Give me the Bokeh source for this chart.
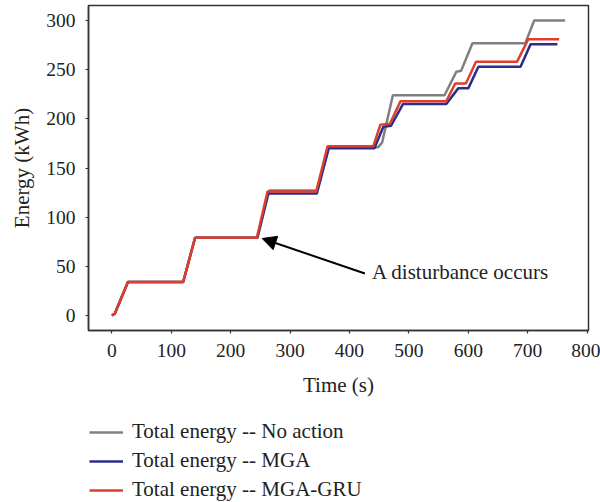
from bokeh.plotting import figure
from bokeh.layouts import column
from bokeh.models import Range1d, Legend, LegendItem, Arrow, NormalHead, Label, FixedTicker
from bokeh.embed import file_html
from bokeh.resources import INLINE

# data
t_noaction = [0, 5, 27, 120, 140, 245, 265, 345, 365, 448, 455, 473, 560, 580, 588, 607, 696, 711, 763]
e_noaction = [0, 2, 34, 34, 79, 79, 127, 127, 171, 171, 176, 224, 224, 248, 249, 277, 277, 300, 300]

t_mga = [0, 5, 27, 120, 140, 245, 263, 345, 365, 442, 457, 470, 490, 563, 583, 600, 617, 688, 705, 750]
e_mga = [0, 2, 34, 34, 79, 79, 124, 124, 170, 170, 192, 193, 215, 215, 231, 231, 253, 253, 276, 276]

t_gru = [0, 5, 27, 120, 140, 244, 262, 344, 363, 440, 452, 468, 486, 563, 578, 596, 613, 682, 701, 753]
e_gru = [0, 2, 34, 34, 79, 79, 126, 126, 172, 172, 194, 195, 218, 218, 236, 236, 258, 258, 281, 281]

labels = ["Total energy -- No action", "Total energy -- MGA", "Total energy -- MGA-GRU"]
colors = ["#808080", "#2b2c8c", "#dd3f2c"]
x_ticks = [0, 100, 200, 300, 400, 500, 600, 700, 800]
y_ticks = [0, 50, 100, 150, 200, 250, 300]

annot_text = "A disturbance occurs"
annot_pos = (438, 43.7)
arrow_tail = (426, 42.7)
arrow_tip = (253, 78.3)

FONT = "Liberation Serif"
AX = "#333333"
TXT = "#222222"

p = figure(width=600, height=410, output_backend="svg", toolbar_location=None,
           x_range=Range1d(-39.4, 802.4), y_range=Range1d(-15.3, 315.3),
           min_border_left=88, min_border_right=12, min_border_top=5, min_border_bottom=80)
p.xgrid.visible = False
p.ygrid.visible = False
p.outline_line_color = AX
p.outline_line_width = 1.5

for ax in (p.xaxis[0], p.yaxis[0]):
    ax.axis_line_color = AX
    ax.axis_line_width = 1.5
    ax.major_tick_line_color = AX
    ax.major_tick_line_width = 1.2
    ax.major_tick_out = 3
    ax.major_tick_in = 0
    ax.minor_tick_line_color = None
    ax.major_label_text_font = FONT
    ax.major_label_text_font_size = "19.5px"
    ax.major_label_text_color = TXT
    ax.axis_label_text_font = FONT
    ax.axis_label_text_font_size = "21px"
    ax.axis_label_text_font_style = "normal"
    ax.axis_label_text_color = TXT

p.xaxis.ticker = FixedTicker(ticks=x_ticks)
p.yaxis.ticker = FixedTicker(ticks=y_ticks)
p.xaxis.axis_label = "Time (s)"
p.yaxis.axis_label = "Energy (kWh)"
p.xaxis.major_label_standoff = 10
p.xaxis.axis_label_standoff = 13
p.yaxis.major_label_standoff = 10
p.yaxis.axis_label_standoff = 9

p.line(t_noaction, e_noaction, line_color=colors[0], line_width=2.5)
p.line(t_mga, e_mga, line_color=colors[1], line_width=2.5)
p.line(t_gru, e_gru, line_color=colors[2], line_width=2.5)

p.add_layout(Arrow(end=NormalHead(size=14, fill_color="black", line_color="black"),
                   x_start=arrow_tail[0], y_start=arrow_tail[1],
                   x_end=arrow_tip[0], y_end=arrow_tip[1],
                   line_color="black", line_width=2))
p.add_layout(Label(x=annot_pos[0], y=annot_pos[1], text=annot_text, text_font=FONT,
                   text_font_size="21px", text_baseline="middle", text_color=TXT))

# legend panel below the chart
q = figure(width=600, height=92, output_backend="svg", toolbar_location=None,
           x_range=Range1d(0, 1), y_range=Range1d(0, 1),
           x_axis_location=None, y_axis_location=None,
           min_border_left=0, min_border_right=0, min_border_top=0, min_border_bottom=0)
q.xgrid.visible = False
q.ygrid.visible = False
q.outline_line_color = None
# single-point proxies (a one-point line draws nothing, but gives the legend its glyph)
proxies = [q.line([0.5], [0.5], line_color=c, line_width=2.5) for c in colors]

legend = Legend(items=[LegendItem(label=lab, renderers=[r]) for lab, r in zip(labels, proxies)],
                location=(1, 0), orientation="vertical",
                border_line_color=None, background_fill_alpha=0,
                label_text_font=FONT, label_text_font_size="21px", label_text_color=TXT,
                glyph_width=34, glyph_height=20, label_height=20, spacing=4,
                label_standoff=9, padding=0, margin=0)
q.add_layout(legend, "center")

open("out.html", "w").write(file_html(column(p, q), INLINE))
